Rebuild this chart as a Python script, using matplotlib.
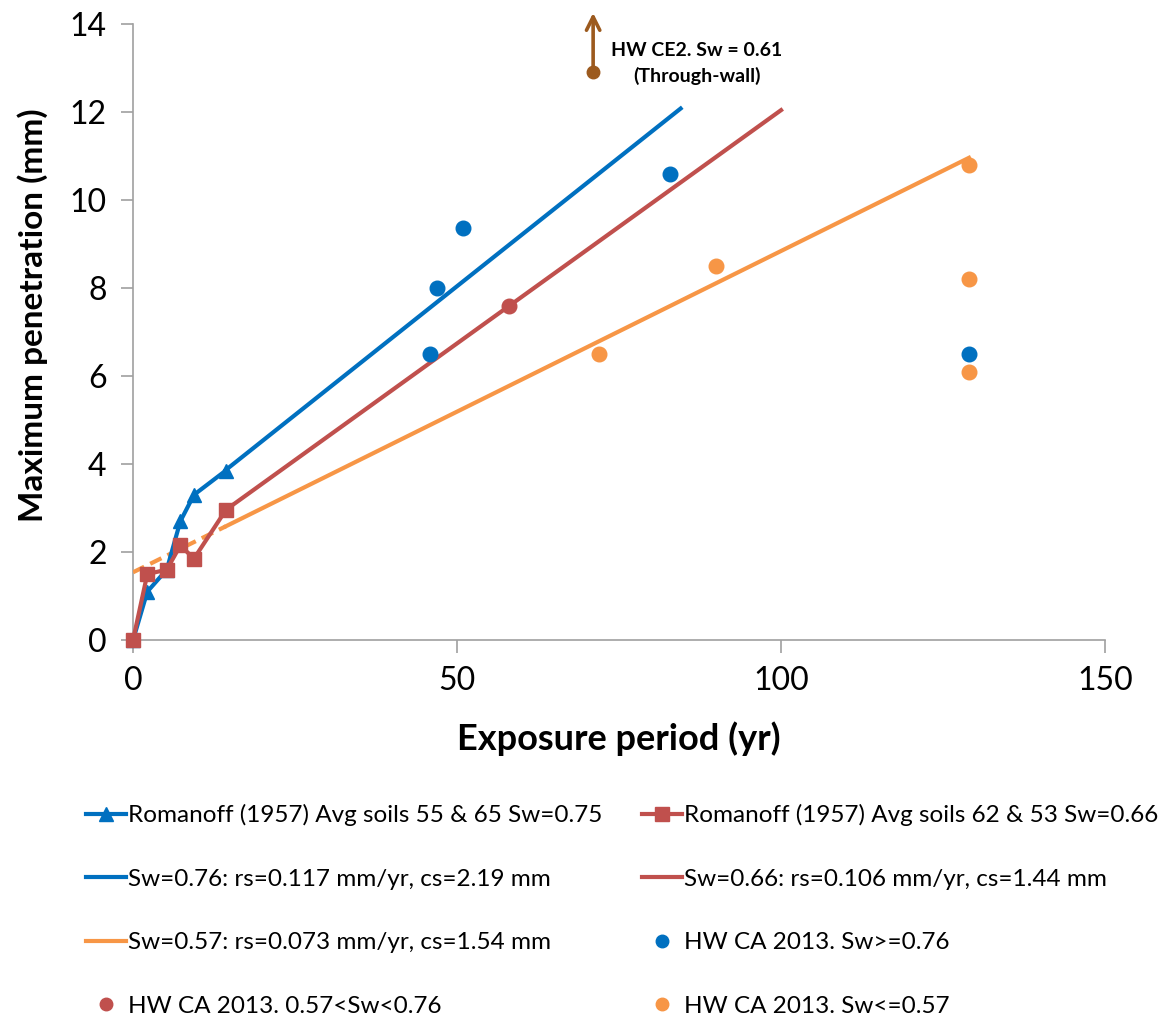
import numpy as np
import matplotlib.pyplot as plt
from matplotlib.lines import Line2D

# ===========================
# Data
# ===========================
rom_years = [0, 2.2, 5.2, 7.3, 9.4, 14.3]
rom_blue = [0, 1.1, 1.6, 2.7, 3.3, 3.85]     # soils 55 & 65, Sw=0.75
rom_red = [0, 1.5, 1.6, 2.15, 1.85, 2.95]    # soils 62 & 53, Sw=0.66

# linear fits: depth = cs + rs * t
fit_blue = dict(rs=0.117, cs=2.19, t0=14.3, t1=84.5)
fit_red = dict(rs=0.106, cs=1.44, t0=14.3, t1=100)
fit_orange = dict(rs=0.073, cs=1.54, t0=14.3, t1=129)

hw_hi_x = [45.8, 46.9, 50.9, 82.9, 129]
hw_hi_y = [6.5, 8.0, 9.37, 10.6, 6.5]
hw_mid_x = [58.0]
hw_mid_y = [7.58]
hw_lo_x = [71.9, 90.0, 129, 129, 129]
hw_lo_y = [6.5, 8.5, 10.8, 8.2, 6.08]

ce2_x, ce2_y = 71, 12.9

blue = '#0070C0'
red = '#C0504D'
orange = '#F79646'
brown = '#9C5A1E'
grey = '#A0A0A0'
lw = 3.0

plt.rcParams['font.family'] = ['Lato', 'DejaVu Sans']

fig = plt.figure(figsize=(11.62, 10.16), dpi=100)
ax = fig.add_axes([0.1145, 0.37, 0.8365, 0.6065])

# Romanoff series
ax.plot(rom_years, rom_blue, color=blue, lw=lw, marker='^', ms=10, zorder=4, clip_on=False)
ax.plot(rom_years, rom_red, color=red, lw=lw, marker='s', ms=9.5, zorder=4, clip_on=False)

# fitted lines
for f, c in [(fit_blue, blue), (fit_red, red), (fit_orange, orange)]:
    t = np.array([f['t0'], f['t1']])
    ax.plot(t, f['cs'] + f['rs'] * t, color=c, lw=lw, zorder=3)
# orange fit extended back to t=0 as dashed
t = np.array([0, fit_orange['t0']])
ax.plot(t, fit_orange['cs'] + fit_orange['rs'] * t, color=orange, lw=lw,
        ls=(0, (3, 1.6)), zorder=3)

# HW CA 2013 points
ax.plot(hw_hi_x, hw_hi_y, 'o', color=blue, ms=10.5, zorder=5)
ax.plot(hw_mid_x, hw_mid_y, 'o', color=red, ms=10.5, zorder=5)
ax.plot(hw_lo_x, hw_lo_y, 'o', color=orange, ms=10.5, zorder=5)

# through-wall annotation
ax.plot([ce2_x], [ce2_y], 'o', color=brown, ms=9, zorder=5, clip_on=False)
ax.annotate('', xy=(ce2_x, 14.25), xytext=(ce2_x, ce2_y),
            arrowprops=dict(arrowstyle='->', color=brown, lw=2.6,
                            mutation_scale=24, shrinkA=0, shrinkB=0),
            annotation_clip=False)
ax.text(87, 13.1, 'HW CE2. Sw = 0.61\n(Through-wall)', ha='center',
        va='center', fontsize=14, fontweight='bold', linespacing=1.5)

ax.set_xlim(0, 150)
ax.set_ylim(0, 14)
ax.set_xticks([0, 50, 100, 150])
ax.set_yticks(range(0, 15, 2))
ax.tick_params(labelsize=23, length=9, width=1.2, color=grey, pad=10)
for s in ['top', 'right']:
    ax.spines[s].set_visible(False)
for s in ['left', 'bottom']:
    ax.spines[s].set_color(grey)
    ax.spines[s].set_linewidth(1.2)

ax.set_xlabel('Exposure period (yr)', fontsize=26, fontweight='bold', labelpad=18)
ax.set_ylabel('Maximum penetration (mm)', fontsize=24, fontweight='bold')
ax.yaxis.set_label_coords(-0.087, 0.527)

handles = [
    Line2D([], [], color=blue, lw=lw, marker='^', ms=10),
    Line2D([], [], color=red, lw=lw, marker='s', ms=9.5),
    Line2D([], [], color=blue, lw=lw),
    Line2D([], [], color=red, lw=lw),
    Line2D([], [], color=orange, lw=lw),
    Line2D([], [], color=blue, ls='', marker='o', ms=9),
    Line2D([], [], color=red, ls='', marker='o', ms=9),
    Line2D([], [], color=orange, ls='', marker='o', ms=9),
]
labels = [
    'Romanoff (1957) Avg soils 55 & 65 Sw=0.75',
    'Romanoff (1957) Avg soils 62 & 53 Sw=0.66',
    'Sw=0.76: rs=0.117 mm/yr, cs=2.19 mm',
    'Sw=0.66: rs=0.106 mm/yr, cs=1.44 mm',
    'Sw=0.57: rs=0.073 mm/yr, cs=1.54 mm',
    'HW CA 2013. Sw>=0.76',
    'HW CA 2013. 0.57<Sw<0.76',
    'HW CA 2013. Sw<=0.57',
]
# matplotlib fills legend columns first; reorder so entries run row by row
order = [0, 2, 4, 6, 1, 3, 5, 7]
fig.legend([handles[i] for i in order], [labels[i] for i in order], ncol=2,
           loc='upper left', bbox_to_anchor=(0.055, 0.23),
           frameon=False, fontsize=17.5, handlelength=1.65, handletextpad=0.1,
           numpoints=1, labelspacing=1.75, columnspacing=1.6)

plt.savefig('out.png', dpi=100)
